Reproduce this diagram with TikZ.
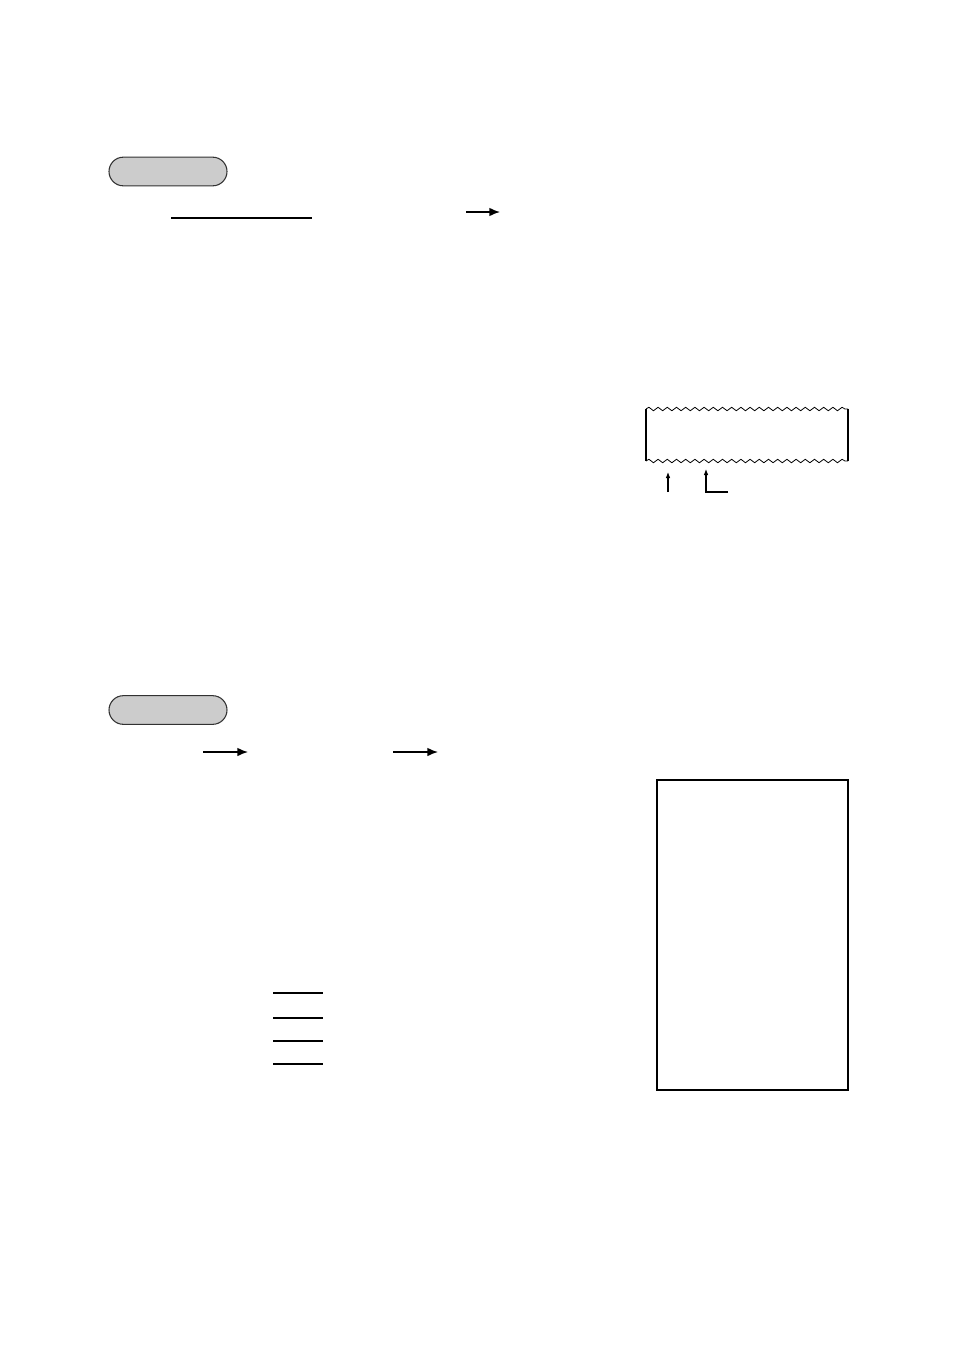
\documentclass[tikz,border=0pt]{standalone}
\usepackage{color}
\definecolor{mygray}{RGB}{204,204,204}
\definecolor{mydark}{RGB}{50,50,50}
\usetikzlibrary{arrows,arrows.meta,positioning,shapes.misc,decorations.pathmorphing}

\begin{document}
\begin{tikzpicture}[
  x=0.75pt, y=-0.75pt,
  line width=0.8pt,
  mypill/.style={
    draw=mydark,
    rounded rectangle,
    fill=mygray,
    minimum width=88.5pt,
    minimum height=21.5pt,
    inner sep=0pt
    },
  myarrow/.style={
    line width=1.1pt,
    -{Latex[length=8pt,width=6.5pt]}
    },
  mysmallarrow/.style={
    line width=0.8pt,
    -{Latex[length=4.5pt,width=3.5pt]}
    },
  mywave/.style={
    line width=0.6pt,
    decorate,
    decoration={snake, segment length=6.9pt, amplitude=1.3pt}
    }
]
\useasboundingbox (0,0) rectangle (954,1350);

% first step
\node[mypill] (pill1) at (168,171.5) {};
\coordinate (line1a) at (171,218);
\coordinate (line1b) at (312,218);
\draw (line1a) -- (line1b);
\coordinate (arr1a) at (466,212);
\coordinate (arr1b) at (500,212);
\draw[myarrow] (arr1a) -- (arr1b);

% paper strip
\coordinate (stripNW) at (646,409);
\coordinate (stripNE) at (848,409);
\coordinate (stripSW) at (646,461);
\coordinate (stripSE) at (848,461);
\draw (stripSW) -- (stripNW);
\draw (stripSE) -- (stripNE);
\draw[mywave] (stripNW) -- (stripNE);
\draw[mywave] (stripSW) -- (stripSE);

\coordinate (tip1) at (668,472);
\coordinate (foot1) at (668,492);
\draw[mysmallarrow] (foot1) -- (tip1);
\coordinate (tip2) at (706,469);
\coordinate (foot2) at (728,492);
\draw[mysmallarrow] (foot2) -| (tip2);

% second step
\node[mypill] (pill2) at (168,710) {};
\coordinate (arr2a) at (203,752);
\coordinate (arr2b) at (248,752);
\draw[myarrow] (arr2a) -- (arr2b);
\coordinate (arr3a) at (393,752);
\coordinate (arr3b) at (438,752);
\draw[myarrow] (arr3a) -- (arr3b);

\foreach \Y [count=\Yi from 1] in {993,1018,1041,1064}
  \draw (273,\Y) coordinate (rule\Yi) -- (323,\Y) coordinate (rule\Yi end);

% receipt
\node[draw, minimum width=143.25pt, minimum height=232.5pt, inner sep=0pt] (receipt) at (752.5,935) {};
\end{tikzpicture}
\end{document}
